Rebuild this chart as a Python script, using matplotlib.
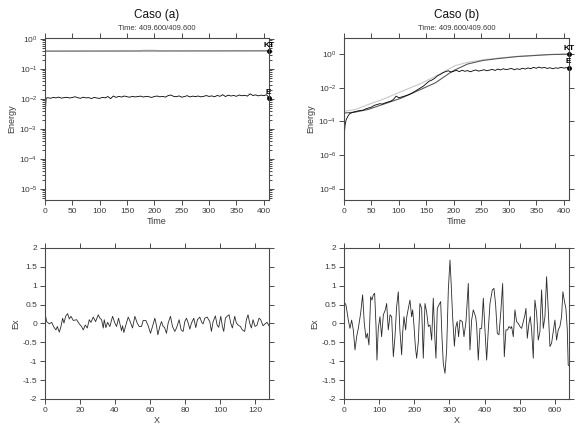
import numpy as np
import matplotlib
matplotlib.use("Agg")
import matplotlib.pyplot as plt
from matplotlib.ticker import LogLocator, NullFormatter, MultipleLocator, FuncFormatter

plt.rcParams['font.family'] = ['Liberation Sans', 'DejaVu Sans']
plt.rcParams['mathtext.fontset'] = 'custom'
plt.rcParams['mathtext.rm'] = 'Liberation Sans'
plt.rcParams['mathtext.it'] = 'Liberation Sans'

# ================== data ==================
# Caso (a): energy vs time
t_a = [0, 2, 5, 10, 15, 20, 25, 30, 35, 40, 45, 50, 55, 60, 65, 70, 75, 80, 85, 90,
       95, 100, 105, 110, 115, 120, 125, 130, 135, 140, 145, 150, 155, 160, 165, 170,
       175, 180, 185, 190, 195, 200, 205, 210, 215, 220, 225, 230, 235, 240, 245, 250,
       255, 260, 265, 270, 275, 280, 285, 290, 295, 300, 305, 310, 315, 320, 325, 330,
       335, 340, 345, 350, 355, 360, 365, 370, 375, 380, 385, 390, 395, 400, 405, 409.6]
e_a = [0.23, 1.05, 1.10, 1.05, 1.12, 1.08, 1.15, 1.06, 1.10, 1.13, 1.07, 1.12, 1.18,
       1.09, 1.05, 1.14, 1.08, 1.10, 1.03, 1.12, 1.07, 1.04, 1.13, 1.08, 1.20, 1.02,
       1.25, 1.12, 1.22, 1.15, 1.25, 1.18, 1.14, 1.22, 1.16, 1.20, 1.24, 1.15, 1.22,
       1.18, 1.12, 1.20, 1.25, 1.17, 1.21, 1.15, 1.28, 1.35, 1.22, 1.18, 1.26, 1.14,
       1.20, 1.28, 1.16, 1.24, 1.19, 1.25, 1.17, 1.22, 1.29, 1.21, 1.26, 1.18, 1.30,
       1.22, 1.38, 1.20, 1.33, 1.25, 1.30, 1.22, 1.35, 1.27, 1.32, 1.24, 1.48, 1.30,
       1.36, 1.26, 1.34, 1.28, 1.38, 1.10]  # x 1e-2
kt_a_t = [0, 409.6]
kt_a = [0.39, 0.40]
tt_a_t = [0, 170, 180, 200, 210, 409.6]
tt_a = [0.40, 0.40, 0.42, 0.42, 0.40, 0.40]

# Caso (b): energy vs time (log10 values)
tt_b_t = [0, 20, 44, 70, 105, 140, 166, 185, 202, 225, 253, 280, 315, 350, 375, 409.6]
tt_b_log = [-3.4, -3.3, -3.0, -2.7, -2.22, -1.75, -1.34, -1.0, -0.7, -0.5, -0.35,
            -0.25, -0.15, -0.08, -0.04, 0.0]
kt_b_t = [0, 20, 44, 70, 105, 140, 166, 185, 193, 202, 225, 253, 280, 315, 350, 375, 409.6]
kt_b_log = [-3.5, -3.45, -3.29, -3.0, -2.61, -2.1, -1.72, -1.3, -1.12, -0.95, -0.6,
            -0.39, -0.28, -0.16, -0.09, -0.04, -0.02]
e_b_t = [0, 1, 2, 4, 7, 10, 15, 20, 25, 30, 35, 40, 45, 50, 55, 60, 65, 70, 75, 80, 85,
         90, 95, 100, 105, 110, 115, 120, 125, 130, 135, 140, 145, 150, 155, 160, 165,
         170, 175, 180, 185, 190, 195, 200, 205, 210, 215, 220, 225, 230, 235, 240, 245,
         250, 255, 260, 265, 270, 275, 280, 285, 290, 295, 300, 305, 310, 315, 320, 325,
         330, 335, 340, 345, 350, 355, 360, 365, 370, 375, 380, 385, 390, 395, 400, 405,
         409.6]
e_b_log = [-5.5, -4.6, -4.2, -3.9, -3.7, -3.55, -3.47, -3.42, -3.38, -3.35, -3.33, -3.25,
           -3.2, -3.15, -3.05, -3.0, -2.95, -2.97, -2.9, -2.85, -2.8, -2.7, -2.5, -2.6,
           -2.55, -2.5, -2.45, -2.38, -2.3, -2.2, -2.1, -2.0, -1.9, -1.75, -1.62, -1.55,
           -1.45, -1.3, -1.22, -1.12, -1.05, -1.0, -1.08, -1.02, -0.98, -1.05, -0.97,
           -1.03, -0.99, -1.06, -1.0, -0.95, -1.02, -0.98, -0.94, -1.0, -0.96, -0.92,
           -0.98, -0.9, -0.95, -0.88, -0.93, -0.9, -0.86, -0.94, -0.88, -0.92, -0.85,
           -0.9, -0.83, -0.88, -0.8, -0.85, -0.78, -0.84, -0.8, -0.86, -0.82, -0.88,
           -0.83, -0.85, -0.8, -0.84, -0.82, -0.82]

# Caso (a): Ex vs X
x_a = [0.0, 0.95, 2.47, 3.8, 5.14, 6.28, 7.04, 8.18, 9.13, 10.08, 10.84, 11.79, 12.93,
       13.89, 14.84, 16.17, 18.07, 19.59, 20.92, 21.87, 23.01, 24.16, 25.3, 26.25, 27.58,
       28.91, 30.43, 31.38, 32.33, 33.29, 33.86, 34.81, 35.76, 37.09, 38.61, 39.94,
       40.89, 42.03, 43.75, 44.32, 45.08, 46.22, 47.55, 48.5, 50.02, 51.35, 52.69,
       53.83, 55.16, 56.11, 57.63, 58.96, 60.29, 61.43, 62.77, 63.72, 64.48, 65.62,
       66.57, 67.52, 68.28, 69.42, 70.37, 71.71, 72.85, 74.18, 75.13, 76.65, 77.79,
       78.93, 79.88, 80.84, 81.98, 82.74, 83.69, 85.02, 86.16, 87.11, 88.44, 89.58,
       90.35, 91.3, 92.63, 94.15, 95.1, 96.05, 97.38, 98.33, 99.28, 100.43, 101.38,
       102.14, 103.09, 104.04, 105.18, 106.13, 107.08, 108.41, 109.37, 110.32, 111.65,
       112.79, 114.12, 115.07, 116.02, 116.97, 117.93, 118.88, 120.02, 121.16, 122.3,
       123.25, 124.58, 125.72, 126.86, 128.0]
ex_a = [0.27, 0.05, -0.01, 0.03, -0.10, -0.17, -0.08, -0.23, -0.08, 0.14, 0.01, 0.19,
        0.26, 0.12, 0.19, 0.08, 0.10, -0.01, -0.08, -0.17, -0.04, -0.12, 0.10, 0.03,
        0.17, 0.05, 0.23, 0.14, 0.10, -0.12, 0.10, -0.11, 0.03, -0.08, 0.19, 0.01,
        -0.08, 0.14, -0.19, -0.06, -0.24, -0.04, 0.17, 0.07, -0.12, 0.19, 0.01, -0.08,
        -0.08, 0.08, 0.08, -0.06, -0.26, -0.08, 0.14, -0.06, -0.30, -0.08, 0.05, -0.08,
        -0.10, -0.26, 0.01, 0.19, -0.08, -0.21, -0.12, 0.10, -0.17, -0.21, 0.05, 0.14,
        -0.01, -0.15, 0.01, 0.14, -0.11, 0.10, 0.17, 0.03, -0.01, 0.14, 0.17, 0.05,
        -0.21, 0.05, 0.20, -0.04, -0.10, 0.19, -0.08, -0.21, 0.14, 0.19, 0.23, 0.01,
        -0.12, 0.19, 0.01, -0.04, -0.08, -0.17, -0.21, 0.10, 0.23, 0.01, -0.12, 0.10,
        -0.08, -0.04, 0.14, 0.10, -0.06, -0.01, 0.03, -0.06]

# Caso (b): Ex vs X
x_b = [0, 5.7, 12.3, 17, 21.8, 26.5, 31.3, 36, 40.8, 47.4, 53, 57.8, 62.6, 66.4, 71,
       75.8, 79.6, 83.4, 87.2, 91, 93.8, 97.6, 102.4, 107, 112, 117.6, 121.4, 126, 131,
       135.6, 140.4, 145, 149.8, 154.5, 159, 164, 166.8, 170.6, 175.4, 178, 183, 187.7,
       192.4, 195.3, 199, 203, 206.7, 211.5, 216, 220.9, 225.6, 230.4, 235, 239.9,
       244.6, 249.4, 254, 258.8, 261.6, 265.4, 270, 275, 278.7, 282.5, 287.3, 292,
       296.8, 301.5, 304.4, 309, 314, 318, 322, 326, 330, 336.5, 341.3, 347, 353.6,
       358.3, 363.1, 367.8, 374.5, 377.3, 382, 386.8, 391.5, 396.3, 401, 405.8, 410.5,
       415.3, 421.9, 426.6, 431.4, 436.1, 440.8, 446.5, 451.3, 456, 460.7, 465.5,
       469.3, 474, 476.8, 481.6, 486.3, 491, 495.8, 500.5, 505.3, 510, 514.8, 517.6,
       521.4, 526.1, 529.9, 533.7, 538.4, 543.1, 547.9, 552.6, 557.3, 562.1, 566.8,
       571.6, 576.3, 581, 585.8, 590.5, 595.2, 600, 604.7, 609.4, 614.2, 618.9, 622.7,
       626.5, 631.2, 635, 637.8, 640]
ex_b = [0.58, 0.49, 0.09, -0.13, 0.09, -0.17, -0.70, -0.35, -0.13, 0.27, 0.76, 0.0,
        -0.39, -0.26, -0.57, 0.71, 0.62, 0.76, 0.80, -0.04, -0.97, -0.13, 0.18, -0.35,
        0.23, 0.36, 0.53, -0.17, 0.23, 0.18, -0.88, -0.35, 0.45, 0.84, -0.17, -0.83,
        -0.26, 0.18, -0.17, 0.14, 0.40, 0.62, 0.18, 0.36, -0.04, -0.61, -0.92, -0.48,
        0.53, 0.40, -0.92, 0.53, 0.31, -0.08, -0.04, -0.44, 0.67, -0.44, -0.92, 0.40,
        0.49, 0.58, -0.35, -1.06, -1.32, -0.70, 0.89, 1.68, 1.15, 0.18, -0.60, -0.10,
        0.05, -0.35, 0.09, 0.05, -0.35, 0.05, 1.06, -0.70, 0.09, 0.36, 0.18, -0.04,
        -0.97, -0.13, -0.13, 0.67, -0.17, -0.97, -0.17, 0.53, 0.89, 0.93, 0.49, -0.26,
        -0.30, 0.36, 1.06, -0.88, -0.17, -0.17, -0.08, -0.13, -0.08, -0.35, 0.36, 0.05,
        0.0, -0.08, -0.13, 0.05, 0.23, 0.40, -0.39, 0.0, 0.18, -0.17, -0.92, 0.62, 0.27,
        -0.44, -0.22, 0.89, -0.13, 0.18, 1.24, 0.36, -0.61, -0.52, -0.22, 0.09, -0.44,
        -0.17, -0.08, 0.18, 0.84, 0.62, 0.40, -0.13, -1.10, -1.12]

# ================== style ==================
SPINE = '#4a4a4a'
TXT = '#3a3a3a'
TICK_FS = 6


def style_axes(ax):
    for s in ax.spines.values():
        s.set_color(SPINE)
        s.set_linewidth(0.8)
    ax.tick_params(which='both', direction='out', color=SPINE, labelcolor=TXT,
                   labelsize=TICK_FS, top=True, right=True, pad=2, width=0.7)
    ax.tick_params(which='major', length=3.5)
    ax.tick_params(which='minor', length=2)


fig = plt.figure(figsize=(5.79, 4.26), dpi=100)
ax1 = fig.add_axes([0.0777, 0.5305, 0.3869, 0.3803])
ax2 = fig.add_axes([0.5941, 0.5305, 0.3886, 0.3803])
ax3 = fig.add_axes([0.0777, 0.0634, 0.3869, 0.3545])
ax4 = fig.add_axes([0.5941, 0.0634, 0.3886, 0.3545])

# --- top left ---
ax1.plot(tt_a_t, tt_a, color='#c8c8c8', lw=0.8)
ax1.plot(kt_a_t, kt_a, color='#6a6a6a', lw=0.8)
ax1.plot(t_a, np.array(e_a) * 1e-2, color='black', lw=0.6)
ax1.plot([kt_a_t[-1]], [kt_a[-1]], 'o', color='black', ms=2.5, clip_on=False)
ax1.plot([t_a[-1]], [e_a[-1] * 1e-2], 'o', color='black', ms=2.5, clip_on=False)
ax1.text(kt_a_t[-1], kt_a[-1] * 1.12, 'KT', fontsize=6, ha='center', va='bottom', fontweight='bold')
ax1.text(t_a[-1] - 2, e_a[-1] * 1e-2 * 1.15, 'E', fontsize=6, ha='center', va='bottom', fontweight='bold')
ax1.set_yscale('log')
ax1.set_ylim(10 ** -5.37, 10 ** 0.03)
ax1.set_xlim(0, 409.6)
ax1.xaxis.set_major_locator(MultipleLocator(50))
ax1.yaxis.set_major_locator(LogLocator(base=10, numticks=10))
ax1.yaxis.set_minor_locator(LogLocator(base=10, subs=np.arange(2, 10), numticks=20))
ax1.yaxis.set_minor_formatter(NullFormatter())
ax1.set_xlabel('Time', fontsize=6.5, color=TXT, labelpad=2)
ax1.set_ylabel('Energy', fontsize=6.5, color=TXT, labelpad=2)
style_axes(ax1)

# --- top right ---
ax2.plot(tt_b_t, np.power(10.0, tt_b_log), color='#c8c8c8', lw=0.8)
ax2.plot(kt_b_t, np.power(10.0, kt_b_log), color='#5a5a5a', lw=0.8)
ax2.plot(e_b_t, np.power(10.0, e_b_log), color='black', lw=0.6)
ax2.plot([kt_b_t[-1]], [10 ** kt_b_log[-1]], 'o', color='black', ms=2.5, clip_on=False)
ax2.plot([e_b_t[-1]], [10 ** e_b_log[-1]], 'o', color='black', ms=2.5, clip_on=False)
ax2.text(kt_b_t[-1], 10 ** kt_b_log[-1] * 1.3, 'KT', fontsize=6, ha='center', va='bottom', fontweight='bold')
ax2.text(e_b_t[-1] - 2, 10 ** e_b_log[-1] * 1.4, 'E', fontsize=6, ha='center', va='bottom', fontweight='bold')
ax2.set_yscale('log')
ax2.set_ylim(10 ** -8.65, 10 ** 0.94)
ax2.set_xlim(0, 409.6)
ax2.xaxis.set_major_locator(MultipleLocator(50))
ax2.set_yticks([1e0, 1e-2, 1e-4, 1e-6, 1e-8])
ax2.yaxis.set_minor_locator(plt.NullLocator())
ax2.set_xlabel('Time', fontsize=6.5, color=TXT, labelpad=2)
ax2.set_ylabel('Energy', fontsize=6.5, color=TXT, labelpad=2)
style_axes(ax2)

# --- bottom left ---
ax3.plot(x_a, ex_a, color='#2a2a2a', lw=0.6)
ax3.set_xlim(0, 128)
ax3.set_ylim(-2, 2)
ax3.xaxis.set_major_locator(MultipleLocator(20))
ax3.yaxis.set_major_locator(MultipleLocator(0.5))
ax3.yaxis.set_major_formatter(FuncFormatter(lambda v, p: f'{v:g}'))
ax3.set_xlabel('X', fontsize=6.5, color=TXT, labelpad=2)
ax3.set_ylabel('Ex', fontsize=6.5, color=TXT, labelpad=2)
style_axes(ax3)

# --- bottom right ---
ax4.plot(x_b, ex_b, color='#2a2a2a', lw=0.6)
ax4.set_xlim(0, 640)
ax4.set_ylim(-2, 2)
ax4.xaxis.set_major_locator(MultipleLocator(100))
ax4.yaxis.set_major_locator(MultipleLocator(0.5))
ax4.yaxis.set_major_formatter(FuncFormatter(lambda v, p: f'{v:g}'))
ax4.set_xlabel('X', fontsize=6.5, color=TXT, labelpad=2)
ax4.set_ylabel('Ex', fontsize=6.5, color=TXT, labelpad=2)
style_axes(ax4)

# titles
for ax, name in [(ax1, 'Caso (a)'), (ax2, 'Caso (b)')]:
    cx = ax.get_position().x0 + ax.get_position().width / 2
    fig.text(cx, 1 - 15 / 426, name, fontsize=8.5, ha='center', va='center', color='#111111')
    fig.text(cx, 1 - 29 / 426, 'Time: 409.600/409.600', fontsize=5.5, ha='center',
             va='center', color=TXT)

fig.savefig('out.png', dpi=100)
